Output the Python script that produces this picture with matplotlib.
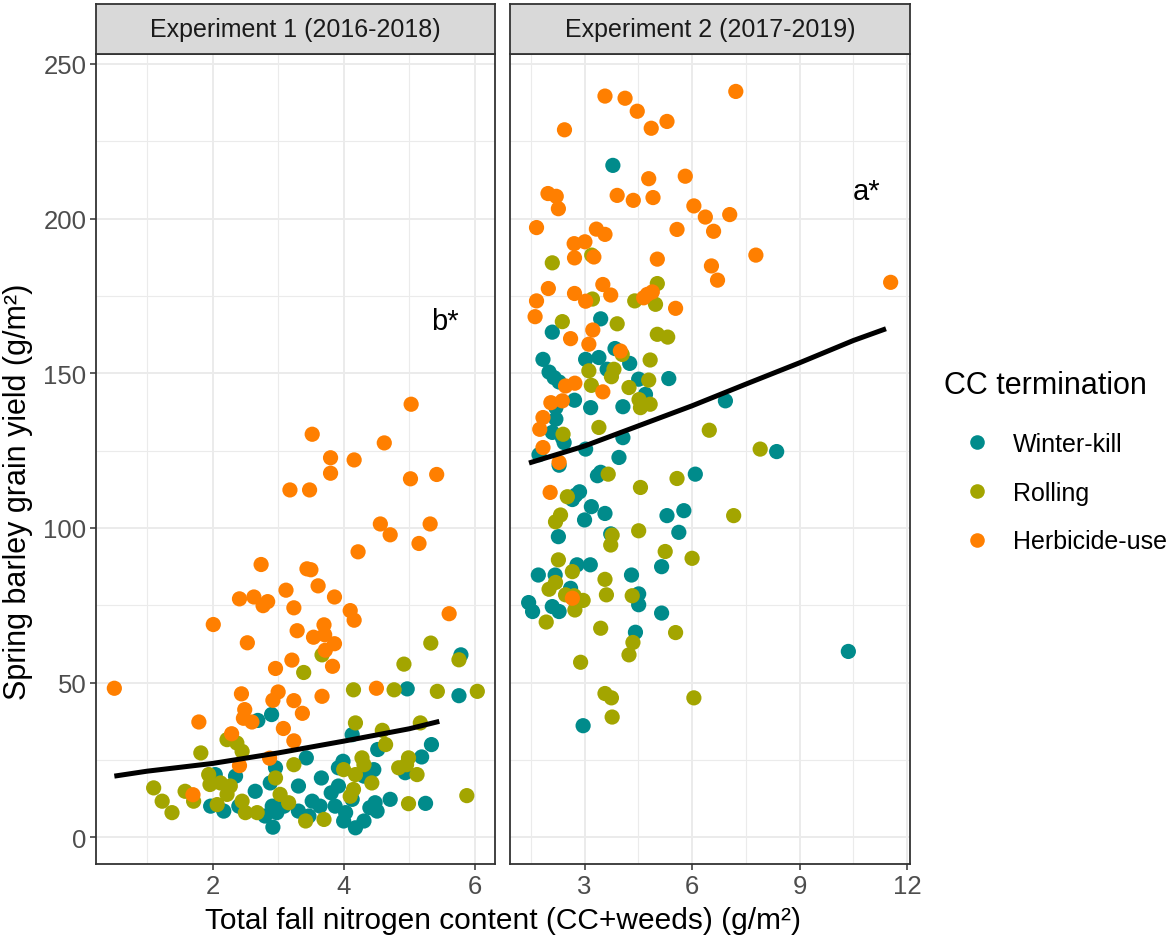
import matplotlib
matplotlib.use('Agg')
import matplotlib.pyplot as plt
from matplotlib.lines import Line2D

plt.rcParams['font.family'] = ['Liberation Sans', 'DejaVu Sans']

# ---- data ----
panel_titles = ['Experiment 1 (2016-2018)', 'Experiment 2 (2017-2019)']
groups = ['Winter-kill', 'Rolling', 'Herbicide-use']
group_colors = ['#008B8B', '#A3A500', '#FF7F00']

# Experiment 1
exp1_winter_x = [4.97, 5.76, 5.79, 2.90, 2.69, 4.13, 5.34, 4.52, 5.19, 3.43, 3.99, 3.92, 4.46, 4.31, 4.94,
                 2.96, 2.88, 2.35, 2.04, 2.65, 3.31, 3.66, 3.92, 3.81, 3.52, 3.64, 4.48, 4.40, 4.51, 4.71,
                 5.25, 4.13, 3.87, 4.03, 4.00, 4.18, 4.31, 2.91, 2.98, 2.80, 2.92, 3.31, 3.47, 1.97, 2.17,
                 2.40, 3.09]
exp1_winter_y = [48.0, 45.8, 59.0, 39.7, 37.8, 33.2, 30.0, 28.4, 26.0, 25.7, 24.6, 22.5, 21.9, 19.8, 20.9,
                 22.5, 17.6, 19.8, 20.3, 14.9, 16.6, 19.2, 16.6, 14.4, 11.7, 10.1, 11.2, 9.6, 8.5, 12.3,
                 11.0, 12.3, 10.1, 8.0, 5.3, 3.1, 5.3, 10.1, 8.0, 6.9, 3.3, 8.5, 6.9, 10.1, 8.5,
                 10.1, 10.1]
exp1_rolling_x = [5.33, 3.67, 4.92, 5.76, 3.39, 4.15, 4.77, 5.43, 6.04, 4.18, 5.17, 4.59, 4.64, 2.22, 2.37,
                  2.45, 1.82, 4.28, 4.31, 4.99, 4.84, 4.96, 5.12, 4.43, 3.24, 4.00, 4.18, 4.15, 4.10, 2.96,
                  1.94, 1.96, 2.12, 2.27, 2.22, 1.10, 1.23, 1.38, 1.58, 1.71, 2.07, 2.45, 2.50, 2.68, 3.03,
                  3.16, 3.42, 3.70, 4.99, 5.88]
exp1_rolling_y = [62.8, 59.0, 56.0, 57.4, 53.3, 47.7, 47.7, 47.2, 47.2, 37.0, 37.0, 34.6, 30.0, 31.6, 30.5,
                  27.8, 27.3, 25.7, 23.5, 25.7, 22.5, 23.5, 20.3, 17.6, 23.5, 21.9, 20.3, 15.5, 13.3, 19.2,
                  20.3, 17.1, 17.6, 16.6, 13.9, 16.0, 11.7, 8.0, 14.9, 11.7, 10.6, 11.7, 8.0, 8.0, 13.9,
                  11.2, 5.3, 5.8, 10.9, 13.5]
exp1_herb_x = [5.03, 3.52, 4.62, 3.80, 4.16, 3.80, 3.18, 3.48, 5.02, 5.42, 4.56, 4.71, 5.32, 5.15, 4.22,
               2.74, 3.44, 3.50, 3.61, 3.12, 2.41, 2.63, 2.77, 2.84, 3.24, 3.86, 2.01, 4.10, 4.16, 5.61,
               2.53, 3.29, 3.70, 3.54, 3.86, 3.71, 3.21, 2.96, 3.83, 3.72, 0.50, 4.50, 2.44, 3.00, 2.92,
               3.67, 3.24, 2.49, 3.37, 1.79, 2.47, 2.60, 3.08, 3.24, 2.29, 2.41, 2.87, 1.70]
exp1_herb_y = [140.0, 130.3, 127.5, 122.7, 122.0, 117.7, 112.3, 112.3, 115.9, 117.3, 101.3, 97.8, 101.3, 95.0, 92.3,
               88.2, 86.8, 86.5, 81.3, 79.9, 77.1, 77.7, 74.9, 76.2, 74.2, 77.7, 68.8, 73.3, 70.2, 72.3,
               62.9, 66.8, 68.7, 64.7, 62.6, 65.5, 57.3, 54.6, 55.3, 60.5, 48.2, 48.2, 46.4, 47.0, 44.3,
               45.6, 44.2, 41.3, 40.1, 37.3, 38.5, 37.3, 35.2, 31.2, 33.5, 23.2, 25.6, 13.8]
exp1_fit_x = [0.5, 1.0, 2.0, 3.0, 4.0, 5.0, 5.46]
exp1_fit_y = [19.8, 21.4, 23.9, 27.3, 31.1, 35.1, 37.5]

# Experiment 2
exp2_winter_x = [3.79, 3.45, 2.10, 1.84, 3.03, 3.40, 3.85, 4.26, 2.01, 2.15, 2.29, 3.63, 4.51, 5.35, 4.70,
                 2.72, 3.17, 4.07, 6.93, 2.20, 2.20, 2.10, 2.38, 2.43, 1.73, 3.03, 4.07, 3.96, 8.36, 2.29,
                 3.36, 3.45, 6.09, 2.75, 2.86, 2.66, 3.19, 3.00, 3.57, 5.30, 5.77, 5.63, 2.27, 3.73, 2.79,
                 3.16, 5.15, 1.71, 2.18, 4.31, 2.61, 4.51, 4.51, 1.44, 1.55, 2.10, 2.29, 5.15, 4.42, 10.36,
                 2.96]
exp2_winter_y = [217.2, 167.6, 163.3, 154.5, 154.5, 155.1, 158.0, 153.2, 150.4, 148.6, 147.2, 151.3, 148.1, 148.3, 143.2,
                 141.3, 138.9, 139.2, 141.1, 138.9, 135.2, 130.9, 129.2, 127.6, 123.7, 125.5, 129.2, 122.8, 124.7, 120.3,
                 116.9, 118.0, 117.4, 110.6, 111.7, 109.2, 106.9, 102.6, 104.7, 104.0, 105.6, 98.6, 97.2, 98.1, 88.1,
                 88.1, 87.5, 84.8, 84.8, 84.8, 80.5, 78.7, 75.2, 75.9, 73.0, 74.6, 73.0, 72.5, 66.3, 60.1,
                 36.1]
exp2_rolling_x = [2.10, 3.20, 5.03, 3.22, 4.40, 4.98, 2.38, 3.91, 5.03, 5.32, 4.05, 4.83, 3.12, 3.82, 3.75,
                  4.79, 3.19, 4.24, 4.52, 4.56, 4.83, 3.40, 2.40, 6.48, 7.90, 5.58, 3.66, 4.56, 2.52, 7.16,
                  2.33, 2.19, 4.51, 3.77, 3.73, 5.25, 6.00, 2.27, 2.66, 3.57, 2.01, 2.19, 2.47, 2.71, 2.96,
                  2.73, 3.61, 4.33, 1.93, 3.45, 5.54, 4.35, 4.24, 2.89, 3.57, 3.75, 3.77, 6.05]
exp2_rolling_y = [185.7, 188.2, 179.0, 174.0, 173.4, 172.3, 166.7, 166.0, 162.6, 161.7, 156.1, 154.3, 150.8, 151.3, 148.9,
                  147.8, 146.1, 145.4, 141.5, 138.9, 140.0, 132.5, 130.3, 131.6, 125.5, 116.0, 117.4, 113.1, 110.1, 104.0,
                  104.2, 102.0, 99.1, 97.7, 94.5, 92.4, 90.2, 89.7, 85.9, 83.4, 80.2, 82.4, 78.4, 78.1, 76.6,
                  73.5, 78.4, 78.1, 69.6, 67.6, 66.2, 63.0, 59.0, 56.6, 46.5, 45.1, 38.9, 45.1]
exp2_herb_x = [3.57, 4.13, 4.47, 4.86, 5.30, 2.44, 7.22, 4.79, 5.81, 1.98, 2.21, 2.27, 3.91, 4.36, 4.91,
               6.05, 6.37, 7.05, 6.60, 1.66, 3.33, 3.57, 5.58, 2.71, 3.01, 2.72, 3.26, 5.03, 7.78, 6.54,
               6.71, 11.54, 1.99, 2.72, 3.51, 3.73, 1.66, 3.03, 4.65, 4.75, 4.89, 5.54, 1.62, 2.61, 3.23,
               3.12, 4.00, 2.47, 2.73, 3.51, 2.06, 2.38, 1.84, 1.75, 1.84, 2.29, 2.04, 2.66]
exp2_herb_y = [239.6, 238.9, 234.7, 229.2, 231.4, 228.7, 241.1, 212.9, 213.7, 208.1, 207.2, 203.2, 207.5, 205.9, 206.8,
               204.1, 200.5, 201.3, 195.9, 197.1, 196.6, 194.9, 196.5, 191.9, 192.5, 187.3, 187.6, 186.9, 188.2, 184.7,
               180.1, 179.4, 177.4, 175.8, 178.7, 175.3, 173.4, 173.3, 174.4, 175.5, 176.3, 171.0, 168.3, 161.2, 164.0,
               159.4, 157.2, 145.9, 146.8, 144.0, 140.5, 141.1, 135.7, 131.9, 126.0, 121.2, 111.5, 77.3]
exp2_fit_x = [1.45, 3.0, 4.5, 6.0, 7.5, 9.0, 10.5, 11.41]
exp2_fit_y = [121.0, 126.5, 133.0, 139.5, 146.5, 153.4, 160.6, 164.4]

sig_labels = ['b*', 'a*']

# ---- layout (pixel boxes) ----
W, H = 1170, 945


def box(l, t, r, b):
    return [l / W, 1 - b / H, (r - l) / W, (b - t) / H]


fig = plt.figure(figsize=(W / 100, H / 100), dpi=100)
ax1 = fig.add_axes(box(96, 55, 495, 865))
ax2 = fig.add_axes(box(510, 55, 910, 865))
st1 = fig.add_axes(box(96, 5, 495, 55))
st2 = fig.add_axes(box(510, 5, 910, 55))

border = '#333333'
msize = 120


def style_panel(ax):
    ax.set_facecolor('white')
    ax.grid(which='major', color='#EBEBEB', linewidth=1.4)
    ax.grid(which='minor', color='#EBEBEB', linewidth=0.8)
    ax.set_axisbelow(True)
    for s in ax.spines.values():
        s.set_color(border)
        s.set_linewidth(1.3)
    ax.tick_params(which='major', direction='out', length=4, width=1.1, color=border,
                   labelcolor='#4D4D4D', labelsize=18.5, pad=3)
    ax.tick_params(which='minor', length=0)
    ax.set_ylim(-8.6, 253.2)
    ax.set_yticks([0, 50, 100, 150, 200, 250])
    ax.set_yticks([25, 75, 125, 175, 225], minor=True)


def draw_panel(ax, xs, ys, fx, fy):
    for x, y, c in zip(xs, ys, group_colors):
        ax.scatter(x, y, s=msize, color=c, edgecolors='none', zorder=3)
    ax.plot(fx, fy, color='black', linewidth=3.6, zorder=4, solid_capstyle='butt')


style_panel(ax1)
style_panel(ax2)

draw_panel(ax1, [exp1_winter_x, exp1_rolling_x, exp1_herb_x],
           [exp1_winter_y, exp1_rolling_y, exp1_herb_y], exp1_fit_x, exp1_fit_y)
draw_panel(ax2, [exp2_winter_x, exp2_rolling_x, exp2_herb_x],
           [exp2_winter_y, exp2_rolling_y, exp2_herb_y], exp2_fit_x, exp2_fit_y)

ax1.set_xlim(0.22, 6.31)
ax1.set_xticks([2, 4, 6])
ax1.set_xticks([1, 3, 5], minor=True)

ax2.set_xlim(0.92, 12.08)
ax2.set_xticks([3, 6, 9, 12])
ax2.set_xticks([1.5, 4.5, 7.5, 10.5], minor=True)
ax2.tick_params(axis='y', which='both', left=False, labelleft=False)

ax1.text(5.55, 167, sig_labels[0], fontsize=21, ha='center', va='center')
ax2.text(10.87, 209, sig_labels[1], fontsize=21, ha='center', va='center')

for st, title in zip([st1, st2], panel_titles):
    st.set_facecolor('#D9D9D9')
    st.set_xticks([])
    st.set_yticks([])
    for s in st.spines.values():
        s.set_color(border)
        s.set_linewidth(1.3)
    st.text(0.5, 0.5, title, transform=st.transAxes, ha='center', va='center',
            fontsize=18, color='#1A1A1A')

fig.text(18 / W, 1 - 492 / H, 'Spring barley grain yield (g/m²)', rotation=90,
         ha='center', va='center', fontsize=22)
fig.text(503 / W, 1 - 921 / H, 'Total fall nitrogen content (CC+weeds) (g/m²)',
         ha='center', va='center', fontsize=21.5)

handles = [Line2D([], [], linestyle='none', marker='o', markersize=10.5, color=c,
                  markeredgewidth=0) for c in group_colors]
leg = fig.legend(handles, groups, title='CC termination', loc='upper left',
                 bbox_to_anchor=(944 / W, 1 - 371 / H), frameon=False, fontsize=18,
                 title_fontsize=22, alignment='left', handlelength=2.64, handletextpad=0.13,
                 labelspacing=0.99, borderaxespad=0, borderpad=0)
leg._legend_box.sep = 23

fig.savefig('out.png', dpi=100)
